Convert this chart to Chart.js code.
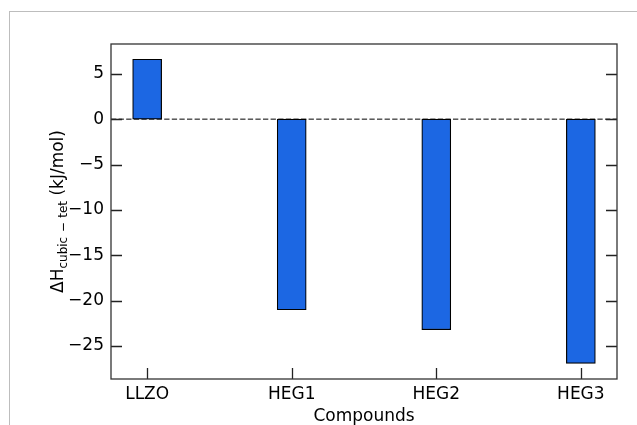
<!DOCTYPE html>
<html>
<head>
<meta charset="utf-8">
<script src="https://cdn.jsdelivr.net/npm/chart.js@4/dist/chart.umd.min.js"></script>
<style>
  html, body { margin: 0; padding: 0; background: #fff; overflow: hidden; }
  #frame { position: absolute; left: 9px; top: 11px; width: 700px; height: 500px;
           border-left: 1px solid #bdbdbd; border-top: 1px solid #bdbdbd; }
  #wrap { position: absolute; left: 0; top: 0; width: 637px; height: 425px; }
</style>
</head>
<body>
<div id="frame"></div>
<div id="wrap"><canvas id="c" width="637" height="425"></canvas></div>
<script>
const categories = ['LLZO', 'HEG1', 'HEG2', 'HEG3'];
const enthalpy = [6.6, -21.0, -23.2, -26.9];
const yTickValues = [-25, -20, -15, -10, -5, 0, 5];
const xTitle = 'Compounds';
const yTitleMain = 'ΔH';
const yTitleSubParts = ['cubic', '−', 'tet'];
const yTitleUnit = ' (kJ/mol)';

const FONT = "'DejaVu Sans', sans-serif";
const minus = s => String(s).replace('-', '\u2212');

const decor = {
  id: 'decor',
  beforeDatasetsDraw(chart) {
    const {ctx, chartArea: a, scales: {y}} = chart;
    const py = y.getPixelForValue(0);
    ctx.save();
    ctx.strokeStyle = '#000';
    ctx.lineWidth = 1;
    ctx.setLineDash([5.3, 2.3]);
    ctx.beginPath();
    ctx.moveTo(a.left, py);
    ctx.lineTo(a.right, py);
    ctx.stroke();
    ctx.restore();
  },
  afterDraw(chart) {
    const {ctx, chartArea: a, scales: {x, y}} = chart;
    ctx.save();
    ctx.strokeStyle = '#222';
    ctx.lineWidth = 1.3;
    const L = 11;
    ctx.beginPath();
    y.ticks.forEach(t => {
      const p = Math.round(y.getPixelForValue(t.value)) + 0.5;
      ctx.moveTo(a.left, p); ctx.lineTo(a.left + L, p);
      ctx.moveTo(a.right, p); ctx.lineTo(a.right - L, p);
    });
    x.ticks.forEach(t => {
      const p = Math.round(x.getPixelForValue(t.value)) + 0.5;
      ctx.moveTo(p, a.bottom); ctx.lineTo(p, a.bottom - L);
    });
    ctx.stroke();
    ctx.strokeStyle = '#333';
    ctx.strokeRect(a.left, a.top, a.right - a.left, a.bottom - a.top);

    // y axis title with subscript
    const big = '17px ' + FONT, small = '12px ' + FONT;
    const gap = 4.5;
    ctx.font = big;
    const w1 = ctx.measureText(yTitleMain).width;
    const w3 = ctx.measureText(yTitleUnit).width;
    ctx.font = small;
    const subW = yTitleSubParts.map(s => ctx.measureText(s).width);
    const w2 = subW.reduce((p, c) => p + c, 0) + gap * (yTitleSubParts.length - 1);
    const total = w1 + w2 + w3;
    ctx.translate(62.5, (a.top + a.bottom) / 2);
    ctx.rotate(-Math.PI / 2);
    ctx.fillStyle = '#000';
    ctx.textBaseline = 'alphabetic';
    ctx.textAlign = 'left';
    let sx = -total / 2;
    ctx.font = big; ctx.fillText(yTitleMain, sx, 0); sx += w1;
    ctx.font = small;
    yTitleSubParts.forEach((s, i) => {
      ctx.fillText(s, sx, 4); sx += subW[i] + gap;
    });
    sx -= gap;
    ctx.font = big; ctx.fillText(yTitleUnit, sx, 0);
    ctx.restore();
  }
};

new Chart(document.getElementById('c'), {
  type: 'bar',
  data: {
    datasets: [{
      data: categories.map((c, i) => ({x: i, y: enthalpy[i]})),
      backgroundColor: '#1c67e3',
      borderColor: '#000',
      borderWidth: 1.2,
      borderSkipped: false,
      barThickness: 29
    }]
  },
  options: {
    responsive: false,
    animation: false,
    layout: { padding: { top: 44, right: 20, left: 0, bottom: 0 } },
    plugins: { legend: { display: false }, tooltip: { enabled: false } },
    scales: {
      x: {
        type: 'linear',
        min: -0.25, max: 3.25,
        offset: false,
        grid: { display: false, drawTicks: false, offset: false },
        border: { display: false },
        afterBuildTicks: s => { s.ticks = categories.map((c, i) => ({value: i})); },
        afterFit: s => { s.height = 46; },
        ticks: {
          padding: 5,
          color: '#000',
          font: { family: FONT, size: 17 },
          callback: v => categories[v]
        },
        title: { display: true, text: xTitle, color: '#000',
                 font: { family: FONT, size: 17 }, padding: { top: 0, bottom: -2 } }
      },
      y: {
        min: -28.63, max: 8.28,
        grid: { display: false, drawTicks: false },
        border: { display: false },
        afterBuildTicks: s => { s.ticks = yTickValues.map(v => ({value: v})); },
        afterFit: s => { s.width = 111; },
        ticks: {
          padding: 7,
          color: '#000',
          font: { family: FONT, size: 17 },
          callback: v => minus(v)
        }
      }
    }
  },
  plugins: [decor]
});
</script>
</body>
</html>
